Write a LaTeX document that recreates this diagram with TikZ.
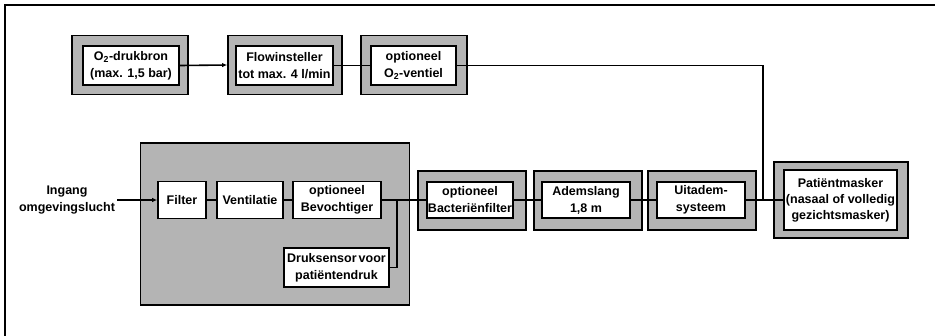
\documentclass[tikz,border=0pt]{standalone}
\usepackage{fontspec}
\setmainfont{Liberation Sans}
\usetikzlibrary{arrows.meta,positioning}
\definecolor{pgray}{HTML}{B4B4B4}
\tikzset{
  >={Latex[length=5pt,width=4.5pt]},
  pframe/.style={draw=black, line width=2pt},
  pouter/.style={rectangle, draw=black, fill=pgray, line width=1.7pt, inner sep=0pt},
  pinner/.style={rectangle, draw=black, fill=white, line width=1.7pt, inner sep=0pt,
                 align=center, font=\bfseries\fontsize{12.5}{17}\selectfont},
  plbl/.style={align=center, inner sep=2pt, font=\bfseries\fontsize{12.5}{17}\selectfont},
  pline/.style={draw=black, line width=1.6pt},
}

\begin{document}
\begin{tikzpicture}[x=1pt,y=-1pt]

  \useasboundingbox (0,0) rectangle (935,335);
  \draw[pframe] (5,336) -- (5,5) -- (936,5);

  % zuurstoftak boven
  \node[pouter, minimum width=116, minimum height=59] (o2o)   at (130,65) {};
  \node[pouter, minimum width=114, minimum height=59] (flowo) at (285,65) {};
  \node[pouter, minimum width=106, minimum height=59] (ventielo) at (414,65) {};
  \node[pinner, minimum width=96, minimum height=39] (o2) at (131,65.5)
    {O\textsubscript{2}-drukbron\\(max. 1,5 bar)};
  \node[pinner, minimum width=97, minimum height=39] (flow) at (284.5,65.5)
    {Flowinsteller\\tot max. 4 l/min};
  \node[pinner, minimum width=85, minimum height=39] (ventiel) at (413.5,65.5)
    {optioneel\\O\textsubscript{2}-ventiel};

  % apparaat
  \node[pouter, minimum width=269, minimum height=162] (device) at (275,224) {};
  \node[pinner, minimum width=48, minimum height=37] (filter) at (182,200) {Filter};
  \node[pinner, minimum width=66, minimum height=37] (vent) at (250,200) {Ventilatie};
  \node[pinner, minimum width=88, minimum height=37] (bevo) at (337,200)
    {optioneel\\Bevochtiger};
  \node[pinner, minimum width=105, minimum height=39] (druk) at (336.5,267.5)
    {Druksensor\,voor\\patiëntendruk};
  \node[plbl] (ingang) at (67,200) {Ingang\\omgevingslucht};

  % patiëntzijde
  \node[pouter, minimum width=108, minimum height=59] (bacto) at (472,200.5) {};
  \node[pouter, minimum width=108, minimum height=59] (adeo)  at (588,200.5) {};
  \node[pouter, minimum width=108, minimum height=59] (uito)  at (702,200.5) {};
  \node[pouter, minimum width=134, minimum height=76] (masko) at (841,200) {};
  \node[pinner, minimum width=86, minimum height=36] (bact) at (470,200)
    {optioneel\\Bacteriënfilter};
  \node[pinner, minimum width=88, minimum height=36] (ade) at (586,200)
    {Ademslang\\1,8 m};
  \node[pinner, minimum width=88, minimum height=36] (uit) at (701,200)
    {Uitadem-\\systeem};
  \node[pinner, minimum width=113, minimum height=60,
        font=\bfseries\fontsize{12.5}{16}\selectfont] (mask) at (840.5,200)
    {Patiëntmasker\\(nasaal of volledig\\gezichtsmasker)};

  \coordinate (tap1) at (397,200);
  \coordinate (tap2) at (763,200);

  \draw[pline, ->] (o2.east) -- (flowo.west);
  \draw[pline] (flow.east) -- (ventiel.west);
  \draw[pline] (ventiel.east) -| (tap2);
  \draw[pline, ->] (ingang.east) -- (filter.west);
  \draw[pline] (filter.east) -- (vent.west);
  \draw[pline] (vent.east) -- (bevo.west);
  \draw[pline] (bevo.east) -- (bact.west);
  \draw[pline] (druk.east) -| (tap1);
  \draw[pline] (bact.east) -- (ade.west);
  \draw[pline] (ade.east) -- (uit.west);
  \draw[pline] (uit.east) -- (mask.west);

\end{tikzpicture}
\end{document}
